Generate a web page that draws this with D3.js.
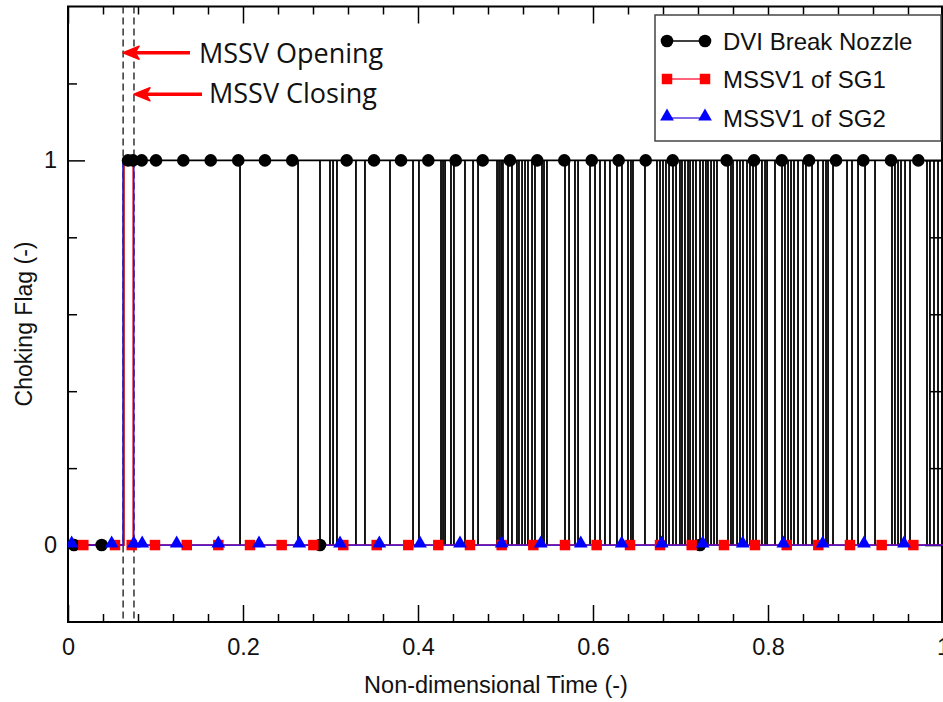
<!DOCTYPE html>
<html>
<head>
<meta charset="utf-8">
<script src="https://cdn.jsdelivr.net/npm/d3@7"></script>
<style>
  body { margin: 0; background: #fff; }
  svg { display: block; }
</style>
</head>
<body>
<div id="chart"></div>
<script>
// Choking flag vs non-dimensional time

// ---- data ----
const xMajor = [0, 0.2, 0.4, 0.6, 0.8, 1];
const xMinor = [0.04, 0.08, 0.12, 0.16, 0.24, 0.28, 0.32, 0.36, 0.44, 0.48,
                0.52, 0.56, 0.64, 0.68, 0.72, 0.76, 0.84, 0.88, 0.92, 0.96];
const yMajor = [0, 1];
const yMinor = [0.2, 0.4, 0.6, 0.8, 1.2];

// DVI break nozzle: 0 until it chokes, then 1 with short drops to 0
const dviRise = 0.0635;
const dviDrops = [
  0.1966, 0.2629, 0.2880, 0.2994, 0.3029, 0.3074, 0.3291, 0.3394, 0.3680, 0.3943,
  0.4011, 0.4263, 0.4286, 0.4309, 0.4377, 0.4411, 0.4537, 0.4629, 0.4686, 0.4903,
  0.4926, 0.4949, 0.4971, 0.5029, 0.5074, 0.5131, 0.5154, 0.5189, 0.5223, 0.5257,
  0.5303, 0.5337, 0.5417, 0.5440, 0.5474, 0.5680, 0.5726, 0.5794, 0.5829, 0.5966,
  0.6023, 0.6080, 0.6137, 0.6194, 0.6274, 0.6331, 0.6400, 0.6434, 0.6457, 0.6594,
  0.6731, 0.6766, 0.6800, 0.6834, 0.6869, 0.6914, 0.6949, 0.6994, 0.7017, 0.7051,
  0.7086, 0.7109, 0.7143, 0.7177, 0.7223, 0.7257, 0.7291, 0.7314, 0.7349, 0.7383,
  0.7417, 0.7543, 0.7577, 0.7600, 0.7646, 0.7680, 0.7714, 0.7760, 0.7794, 0.7829,
  0.7863, 0.7931, 0.7966, 0.7989, 0.8080, 0.8160, 0.8194, 0.8229, 0.8263, 0.8297,
  0.8343, 0.8400, 0.8434, 0.8503, 0.8571, 0.8629, 0.8663, 0.8686, 0.8743, 0.8903,
  0.8960, 0.9029, 0.9109, 0.9223, 0.9417, 0.9451, 0.9486, 0.9520, 0.9566, 0.9623,
  0.9817, 0.9851, 0.9897, 0.9943
];
const dviMarkers = [
  [0.0069, 0], [0.0385, 0], [0.0686, 1], [0.0743, 1], [0.0842, 1], [0.1006, 1],
  [0.1318, 1], [0.1631, 1], [0.1946, 1], [0.2251, 1], [0.2563, 1], [0.2880, 0],
  [0.3185, 1], [0.3497, 1], [0.3806, 1], [0.4118, 1], [0.4431, 1], [0.4739, 1],
  [0.5051, 1], [0.5363, 1], [0.5672, 1], [0.5985, 1], [0.6293, 1], [0.6602, 1],
  [0.6911, 1], [0.7223, 0], [0.7528, 1], [0.7840, 1], [0.8157, 1], [0.8469, 1],
  [0.8777, 1], [0.9089, 1], [0.9406, 1], [0.9718, 1]
];

// MSSV1 of SG1 / SG2: open briefly, then closed
const sg1Line = [[0, 0], [0.0638, 0], [0.0638, 1], [0.0745, 1], [0.0745, 0], [1, 0]];
const sg2Line = [[0, 0], [0.0630, 0], [0.0630, 1], [0.0752, 1], [0.0752, 0], [1, 0]];
const sg1Markers = [
  0.0175, 0.0537, 0.0728, 0.0994, 0.1357, 0.1718, 0.2080, 0.2442, 0.2804, 0.3146,
  0.3528, 0.3889, 0.4232, 0.4594, 0.4956, 0.5318, 0.5680, 0.6042, 0.6423, 0.6766,
  0.7128, 0.7497, 0.7851, 0.8214, 0.8575, 0.8937, 0.9299, 0.9661
];
const sg2Markers = [
  0.0042, 0.0499, 0.0752, 0.0848, 0.1242, 0.1718, 0.2183, 0.2643, 0.3109, 0.3558,
  0.4023, 0.4480, 0.4956, 0.5403, 0.5860, 0.6328, 0.6785, 0.7254, 0.7711, 0.8175,
  0.8625, 0.9097, 0.9554
];

const mssvOpen = 0.0630;
const mssvClose = 0.0754;

const seriesNames = ["DVI Break Nozzle", "MSSV1 of SG1", "MSSV1 of SG2"];

// ---- layout ----
const width = 943, height = 702;
const plot = { left: 68, right: 943, top: 6.5, bottom: 622 };
const axisFont = "'Liberation Sans', Arial, sans-serif";

const svg = d3.select("#chart").append("svg")
  .attr("width", width)
  .attr("height", height);

const x = d3.scaleLinear().domain([0, 1]).range([plot.left, plot.right]);
const y = d3.scaleLinear().domain([-0.2, 1.4]).range([plot.bottom, plot.top]);

svg.append("clipPath").attr("id", "clip")
  .append("rect")
  .attr("x", plot.left).attr("y", plot.top)
  .attr("width", plot.right - plot.left).attr("height", plot.bottom - plot.top);

// ---- axes (ticks on all four sides, pointing inward) ----
function styleAxis(g) {
  g.select(".domain").remove();
  g.selectAll("line").attr("stroke", "#000").attr("stroke-width", 1.5);
  g.selectAll("text").attr("font-family", axisFont).attr("font-size", 23.5).attr("fill", "#111");
}

svg.append("g")
  .attr("transform", `translate(0,${plot.bottom})`)
  .call(d3.axisBottom(x).tickValues(xMinor).tickSize(-8).tickFormat(""))
  .call(styleAxis);
svg.append("g")
  .attr("transform", `translate(0,${plot.bottom})`)
  .call(d3.axisBottom(x).tickValues(xMajor).tickSize(-17).tickPadding(16)
    .tickFormat(d => d === 0 || d === 1 ? d3.format("d")(d) : d3.format(".1f")(d)))
  .call(styleAxis);
svg.append("g")
  .attr("transform", `translate(0,${plot.top})`)
  .call(d3.axisTop(x).tickValues(xMinor).tickSize(-8).tickFormat(""))
  .call(styleAxis);
svg.append("g")
  .attr("transform", `translate(0,${plot.top})`)
  .call(d3.axisTop(x).tickValues(xMajor).tickSize(-17).tickFormat(""))
  .call(styleAxis);

svg.append("g")
  .attr("transform", `translate(${plot.left},0)`)
  .call(d3.axisLeft(y).tickValues(yMinor).tickSize(-9).tickFormat(""))
  .call(styleAxis);
svg.append("g")
  .attr("transform", `translate(${plot.left},0)`)
  .call(d3.axisLeft(y).tickValues(yMajor).tickSize(-17).tickPadding(11).tickFormat(d3.format("d")))
  .call(styleAxis);
svg.append("g")
  .attr("transform", `translate(${plot.right - 1},0)`)
  .call(d3.axisRight(y).tickValues(yMinor).tickSize(-12).tickFormat(""))
  .call(styleAxis);
svg.append("g")
  .attr("transform", `translate(${plot.right - 1},0)`)
  .call(d3.axisRight(y).tickValues(yMajor).tickSize(-17).tickFormat(""))
  .call(styleAxis);

// frame
svg.append("rect")
  .attr("x", plot.left).attr("y", plot.top)
  .attr("width", plot.right - 1 - plot.left).attr("height", plot.bottom - plot.top)
  .attr("fill", "none").attr("stroke", "#000").attr("stroke-width", 2);

// axis titles
svg.append("text")
  .attr("x", 496).attr("y", 693)
  .attr("text-anchor", "middle")
  .attr("font-family", axisFont).attr("font-size", 23.5).attr("fill", "#111")
  .text("Non-dimensional Time (-)");
svg.append("text")
  .attr("transform", "translate(32,324) rotate(-90)")
  .attr("text-anchor", "middle")
  .attr("font-family", axisFont).attr("font-size", 23).attr("fill", "#111")
  .text("Choking Flag (-)");

// ---- series ----
const g = svg.append("g").attr("clip-path", "url(#clip)");

const line = d3.line().x(d => x(d[0])).y(d => y(d[1]));

// DVI step line with drops
const dviLine = [[0, 0], [dviRise, 0], [dviRise, 1]];
dviDrops.forEach(d => { dviLine.push([d, 1], [d, 0], [d, 1]); });
dviLine.push([1, 1]);

g.append("path")
  .datum(dviLine)
  .attr("fill", "none")
  .attr("stroke", "#000")
  .attr("stroke-width", 1.8)
  .attr("d", line);

// dashed MSSV event lines
g.selectAll("line.event")
  .data([mssvOpen, mssvClose])
  .enter().append("line")
  .attr("class", "event")
  .attr("x1", d => x(d)).attr("x2", d => x(d))
  .attr("y1", plot.top).attr("y2", plot.bottom)
  .attr("stroke", "#333")
  .attr("stroke-width", 1.5)
  .attr("stroke-dasharray", "7,4");

g.append("path")
  .datum(sg1Line)
  .attr("fill", "none")
  .attr("stroke", "#ff0000")
  .attr("stroke-width", 1.5)
  .attr("d", line);

g.append("path")
  .datum(sg2Line)
  .attr("fill", "none")
  .attr("stroke", "#2a10e8")
  .attr("stroke-opacity", 0.8)
  .attr("stroke-width", 1.8)
  .attr("d", line);

// markers
const sq = d3.symbol().type(d3.symbolSquare).size(110);
const tri = d3.symbol().type(d3.symbolTriangle).size(82);

g.selectAll("circle.dvi")
  .data(dviMarkers)
  .enter().append("circle")
  .attr("class", "dvi")
  .attr("cx", d => x(d[0]))
  .attr("cy", d => y(d[1]))
  .attr("r", 6.3)
  .attr("fill", "#000");

g.selectAll("path.sg1")
  .data(sg1Markers)
  .enter().append("path")
  .attr("class", "sg1")
  .attr("transform", d => `translate(${x(d)},${y(0)})`)
  .attr("d", sq)
  .attr("fill", "#ff0000");

g.selectAll("path.sg2")
  .data(sg2Markers)
  .enter().append("path")
  .attr("class", "sg2")
  .attr("transform", d => `translate(${x(d)},${y(0) - 1.5})`)
  .attr("d", tri)
  .attr("fill", "#0000ff");

// ---- annotations ----
const annFont = "'Open Sans', 'Noto Sans', sans-serif";
const notes = [
  { t: mssvOpen, y: 52.7, tail: 190, label: "MSSV Opening", tx: 199, ty: 63 },
  { t: mssvClose, y: 94.3, tail: 202, label: "MSSV Closing", tx: 209, ty: 103 }
];
notes.forEach(n => {
  const tip = x(n.t);
  svg.append("line")
    .attr("x1", tip + 4).attr("x2", n.tail)
    .attr("y1", n.y).attr("y2", n.y)
    .attr("stroke", "#ff0000").attr("stroke-width", 3.5);
  svg.append("path")
    .attr("d", `M${tip},${n.y} L${tip + 16},${n.y - 6.5} L${tip + 12},${n.y} L${tip + 16},${n.y + 6.5} Z`)
    .attr("fill", "#ff0000")
    .attr("stroke", "#ff0000")
    .attr("stroke-width", 1.5)
    .attr("stroke-linejoin", "round");
  svg.append("text")
    .attr("x", n.tx).attr("y", n.ty)
    .attr("font-family", annFont).attr("font-size", 27).attr("fill", "#111")
    .text(n.label);
});

// ---- legend ----
const legend = svg.append("g");
legend.append("rect")
  .attr("x", 655).attr("y", 15)
  .attr("width", 286).attr("height", 126)
  .attr("fill", "#fff")
  .attr("stroke", "#444")
  .attr("stroke-width", 1.5);

const legendRows = [
  { name: seriesNames[0], color: "#000", lineColor: "#000", kind: "circle", y: 41 },
  { name: seriesNames[1], color: "#ff0000", lineColor: "#ff3050", kind: "square", y: 79 },
  { name: seriesNames[2], color: "#0000ff", lineColor: "#5a3ae0", kind: "triangle", y: 118 }
];
legendRows.forEach(r => {
  legend.append("line")
    .attr("x1", 667).attr("x2", 705)
    .attr("y1", r.y).attr("y2", r.y)
    .attr("stroke", r.lineColor).attr("stroke-width", 1.5);
  [667, 705].forEach(px => {
    if (r.kind === "circle") {
      legend.append("circle").attr("cx", px).attr("cy", r.y).attr("r", 6.3).attr("fill", r.color);
    } else {
      legend.append("path")
        .attr("transform", `translate(${px},${r.y - (r.kind === "triangle" ? 1.5 : 0)})`)
        .attr("d", r.kind === "square" ? sq : tri)
        .attr("fill", r.color);
    }
  });
  legend.append("text")
    .attr("x", 723).attr("y", r.y + 8.5)
    .attr("font-family", axisFont).attr("font-size", 24).attr("fill", "#111")
    .text(r.name);
});
</script>
</body>
</html>
